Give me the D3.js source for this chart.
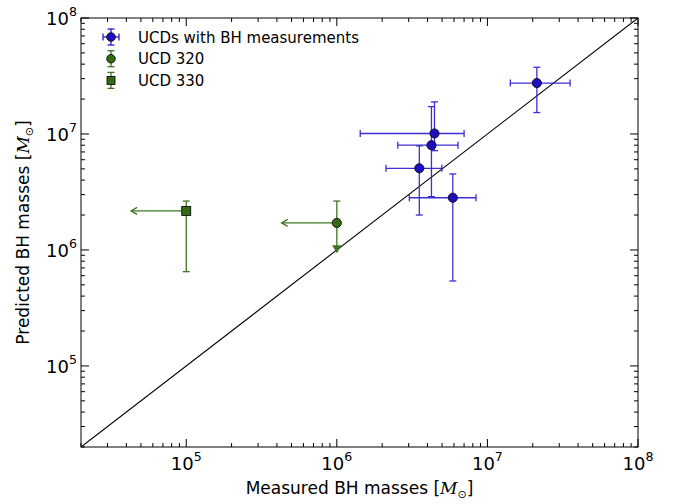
<!DOCTYPE html>
<html>
<head>
<meta charset="utf-8">
<script src="https://d3js.org/d3.v7.min.js"></script>
<style>
body { margin: 0; background: #fff; }
text { font-family: "DejaVu Sans", sans-serif; }
</style>
</head>
<body>
<svg width="684" height="504"></svg>
<script>
// UCDs with BH measurements
var bhMeasured   = [4.45e6, 4.25e6, 3.53e6, 5.89e6, 2.13e7];
var bhMeasuredLo = [1.43e6, 2.54e6, 2.12e6, 3.03e6, 1.42e7];
var bhMeasuredHi = [7.0e6, 6.38e6, 4.98e6, 8.4e6, 3.54e7];
var bhPredicted   = [1.01e7, 8.0e6, 5.06e6, 2.82e6, 2.75e7];
var bhPredictedLo = [7.18e6, 2.88e6, 2.0e6, 5.4e5, 1.53e7];
var bhPredictedHi = [1.89e7, 1.72e7, 7.9e6, 4.52e6, 3.76e7];

// upper limits: UCD 320 and UCD 330
var limitNames = ["UCD 320", "UCD 330"];
var limitX      = [1e6, 1e5];
var limitXArrow = [4.3e5, 4.3e4];
var limitY      = [1.71e6, 2.17e6];
var limitYHi    = [2.64e6, 2.64e6];
var limitYLo    = [9.6e5, 6.5e5];
var limitYIsArrow = [true, false];

var xTicks = [1e5, 1e6, 1e7, 1e8];
var yTicks = [1e5, 1e6, 1e7, 1e8];

var blue = "#1d0fc0", blueBar = "#2a1acb";
var green = "#346b12", greenBar = "#3f7423";

var svg = d3.select("svg");
var margin = {top: 18, right: 46, bottom: 57, left: 81};
var w = 684 - margin.left - margin.right, h = 504 - margin.top - margin.bottom;
var g = svg.append("g").attr("transform", "translate(" + margin.left + "," + margin.top + ")");

var x = d3.scaleLog().domain([2e4, 1e8]).range([0, w]);
var y = d3.scaleLog().domain([2e4, 1e8]).range([h, 0]);

svg.append("defs").append("clipPath").attr("id", "clip")
  .append("rect").attr("width", w).attr("height", h);

// ticks, all four sides, inward
function isMajor(v) { return Math.abs(Math.log10(v) - Math.round(Math.log10(v))) < 1e-9; }
x.ticks().forEach(function(v) {
  var len = isMajor(v) ? 8 : 4, px = x(v);
  g.append("line").attr("x1", px).attr("x2", px).attr("y1", h).attr("y2", h - len).attr("stroke", "#000");
  g.append("line").attr("x1", px).attr("x2", px).attr("y1", 0).attr("y2", len).attr("stroke", "#000");
});
y.ticks().forEach(function(v) {
  var len = isMajor(v) ? 8 : 4, py = y(v);
  g.append("line").attr("y1", py).attr("y2", py).attr("x1", 0).attr("x2", len).attr("stroke", "#000");
  g.append("line").attr("y1", py).attr("y2", py).attr("x1", w).attr("x2", w - len).attr("stroke", "#000");
});

function powLabel(sel, v) {
  var e = Math.round(Math.log10(v));
  sel.append("tspan").text("10");
  sel.append("tspan").attr("font-size", 12.6).attr("dy", -8.5).text(e);
}
xTicks.forEach(function(v) {
  var t = g.append("text").attr("x", x(v)).attr("y", h + 22.5)
    .attr("text-anchor", "middle").attr("font-size", 18);
  powLabel(t, v);
});
yTicks.forEach(function(v) {
  var t = g.append("text").attr("x", -4).attr("y", y(v) + 6.6)
    .attr("text-anchor", "end").attr("font-size", 18);
  powLabel(t, v);
});

// axis titles
function massLabel(t, s) {
  t.append("tspan").text(s + " [");
  t.append("tspan").attr("font-family", "DejaVu Serif").attr("font-style", "italic").text("M");
  t.append("tspan").attr("font-size", 11).attr("dy", 4).text("\u2299");
  t.append("tspan").attr("dy", -4).text("]");
}
massLabel(g.append("text").attr("x", w / 2).attr("y", h + 46.5).attr("text-anchor", "middle").attr("font-size", 17), "Measured BH masses");
massLabel(g.append("text").attr("transform", "translate(" + (-52) + "," + (h / 2) + ") rotate(-90)")
  .attr("text-anchor", "middle").attr("font-size", 17), "Predicted BH masses");

// one-to-one line
g.append("line").attr("clip-path", "url(#clip)")
  .attr("x1", x(2e4)).attr("y1", y(2e4)).attr("x2", x(1e8)).attr("y2", y(1e8))
  .attr("stroke", "#000").attr("stroke-width", 1.1);

// error bars for measured UCDs
var cap = 3.5;
var eb = g.append("g").attr("stroke", blueBar).attr("stroke-width", 1.3).attr("opacity", 0.9);
bhMeasured.forEach(function(mx, i) {
  var px = x(mx), py = y(bhPredicted[i]);
  var x0 = x(bhMeasuredLo[i]), x1 = x(bhMeasuredHi[i]);
  var y0 = y(bhPredictedLo[i]), y1 = y(bhPredictedHi[i]);
  eb.append("line").attr("x1", x0).attr("x2", x1).attr("y1", py).attr("y2", py);
  eb.append("line").attr("x1", x0).attr("x2", x0).attr("y1", py - cap).attr("y2", py + cap);
  eb.append("line").attr("x1", x1).attr("x2", x1).attr("y1", py - cap).attr("y2", py + cap);
  eb.append("line").attr("x1", px).attr("x2", px).attr("y1", y0).attr("y2", y1);
  eb.append("line").attr("x1", px - cap).attr("x2", px + cap).attr("y1", y0).attr("y2", y0);
  eb.append("line").attr("x1", px - cap).attr("x2", px + cap).attr("y1", y1).attr("y2", y1);
});

// limits
var lb = g.append("g").attr("stroke", greenBar).attr("stroke-width", 1.3).attr("fill", "none");
limitX.forEach(function(lx, i) {
  var px = x(lx), py = y(limitY[i]), ax = x(limitXArrow[i]);
  lb.append("line").attr("x1", ax).attr("x2", px).attr("y1", py).attr("y2", py);
  lb.append("path").attr("d", "M" + (ax + 6) + "," + (py - 3.5) + "L" + ax + "," + py + "L" + (ax + 6) + "," + (py + 3.5));
  var yt = y(limitYHi[i]), yb = y(limitYLo[i]);
  lb.append("line").attr("x1", px).attr("x2", px).attr("y1", yt).attr("y2", yb);
  lb.append("line").attr("x1", px - cap).attr("x2", px + cap).attr("y1", yt).attr("y2", yt);
  if (limitYIsArrow[i]) {
    lb.append("path").attr("fill", greenBar)
      .attr("d", "M" + (px - 3.5) + "," + (yb - 6) + "L" + px + "," + yb + "L" + (px + 3.5) + "," + (yb - 6) + "Z");
  } else {
    lb.append("line").attr("x1", px - cap).attr("x2", px + cap).attr("y1", yb).attr("y2", yb);
  }
});

// markers
g.selectAll("circle.ucd").data(bhMeasured).enter().append("circle")
  .attr("cx", function(d) { return x(d); })
  .attr("cy", function(d, i) { return y(bhPredicted[i]); })
  .attr("r", 4.6).attr("fill", blue).attr("stroke", "#000").attr("stroke-width", 0.8);
g.append("circle").attr("cx", x(limitX[0])).attr("cy", y(limitY[0])).attr("r", 4.6)
  .attr("fill", green).attr("stroke", "#000").attr("stroke-width", 0.8);
g.append("rect").attr("x", x(limitX[1]) - 4.5).attr("y", y(limitY[1]) - 4.5)
  .attr("width", 9).attr("height", 9).attr("fill", green).attr("stroke", "#000").attr("stroke-width", 0.8);

// frame
g.append("rect").attr("width", w).attr("height", h).attr("fill", "none").attr("stroke", "#000").attr("stroke-width", 1);

// legend
var leg = g.append("g").attr("transform", "translate(" + 30 + "," + 19 + ")");
var legNames = ["UCDs with BH measurements"].concat(limitNames);
legNames.forEach(function(name, i) {
  var ly = i * 21.7, c = i === 0 ? blueBar : greenBar;
  var row = leg.append("g").attr("transform", "translate(0," + ly + ")");
  var bars = row.append("g").attr("stroke", c).attr("stroke-width", 1.3);
  bars.append("line").attr("x1", 0).attr("x2", 0).attr("y1", -8).attr("y2", 8);
  bars.append("line").attr("x1", -3.5).attr("x2", 3.5).attr("y1", -8).attr("y2", -8);
  bars.append("line").attr("x1", -3.5).attr("x2", 3.5).attr("y1", 8).attr("y2", 8);
  if (i === 0) {
    bars.append("line").attr("x1", -8).attr("x2", 8).attr("y1", 0).attr("y2", 0);
    bars.append("line").attr("x1", -8).attr("x2", -8).attr("y1", -3.5).attr("y2", 3.5);
    bars.append("line").attr("x1", 8).attr("x2", 8).attr("y1", -3.5).attr("y2", 3.5);
  }
  if (i === 2) {
    row.append("rect").attr("x", -4).attr("y", -4).attr("width", 8).attr("height", 8)
      .attr("fill", green).attr("stroke", "#000").attr("stroke-width", 0.8);
  } else {
    row.append("circle").attr("r", 4.3).attr("fill", i === 0 ? blue : green)
      .attr("stroke", "#000").attr("stroke-width", 0.8);
  }
  row.append("text").attr("x", 27).attr("y", 5.5).attr("font-size", 15).text(name);
});
</script>
</body>
</html>
